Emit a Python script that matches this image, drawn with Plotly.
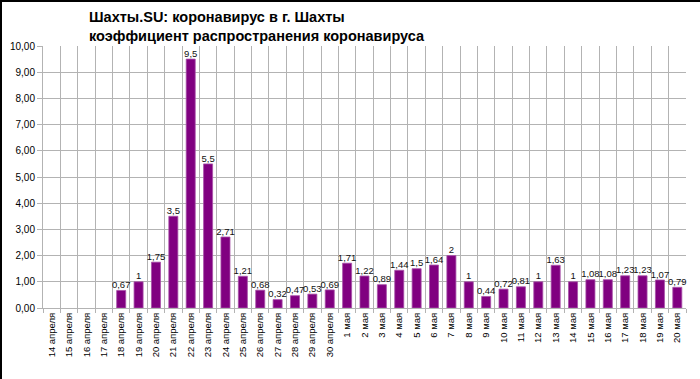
import plotly.graph_objects as go

categories = [
    "14 апреля", "15 апреля", "16 апреля", "17 апреля", "18 апреля", "19 апреля",
    "20 апреля", "21 апреля", "22 апреля", "23 апреля", "24 апреля", "25 апреля",
    "26 апреля", "27 апреля", "28 апреля", "29 апреля", "30 апреля",
    "1 мая", "2 мая", "3 мая", "4 мая", "5 мая", "6 мая", "7 мая", "8 мая", "9 мая",
    "10 мая", "11 мая", "12 мая", "13 мая", "14 мая", "15 мая", "16 мая", "17 мая",
    "18 мая", "19 мая", "20 мая",
]
values = [
    None, None, None, None, 0.67, 1, 1.75, 3.5, 9.5, 5.5, 2.71, 1.21, 0.68, 0.32,
    0.47, 0.53, 0.69, 1.71, 1.22, 0.89, 1.44, 1.5, 1.64, 2, 1, 0.44, 0.72, 0.81,
    1, 1.63, 1, 1.08, 1.08, 1.23, 1.23, 1.07, 0.79,
]
title_lines = ["Шахты.SU: коронавирус в г. Шахты", "коэффициент распространения коронавируса"]

positions = list(range(len(categories)))
labels = ["" if v is None else (str(int(v)) if v == int(v) else str(v)).replace(".", ",") for v in values]

W, H = 700, 379
ml, mr, mt, mb = 43, 14, 46, 71
pw, ph = W - ml - mr, H - mt - mb
FONT = "Liberation Sans, Arial, sans-serif"

fig = go.Figure()
fig.add_trace(go.Bar(
    x=positions, y=values,
    marker=dict(color="#800080", line=dict(color="#a850a8", width=0.8)),
    width=0.52, hoverinfo="skip",
))
fig.add_trace(go.Scatter(
    x=positions, y=values, text=labels, mode="text", textposition="top center",
    textfont=dict(size=9.5, color="#111111", family=FONT),
    cliponaxis=False, hoverinfo="skip",
))

fig.update_layout(
    width=W, height=H,
    margin=dict(l=ml, r=mr, t=mt, b=mb, autoexpand=False),
    paper_bgcolor="white", plot_bgcolor="white",
    showlegend=False,
    font=dict(family=FONT, color="#000000"),
    separators=", ",
)
fig.add_annotation(
    xref="paper", yref="paper", x=(87 - ml) / pw, y=1 + (mt - 7) / ph,
    xanchor="left", yanchor="top", align="left", showarrow=False,
    text="<b>" + title_lines[0] + "<br>" + title_lines[1] + "</b>",
    font=dict(size=14.5, family=FONT, color="#000000"),
)

fig.update_yaxes(
    range=[0, 10], dtick=1, tickformat=".2f",
    showgrid=True, gridcolor="#b3b3b3", gridwidth=1,
    showline=True, linecolor="#b3b3b3", linewidth=1,
    ticks="outside", ticklen=5, tickcolor="#b3b3b3",
    tickfont=dict(size=10, color="#000000"),
    zeroline=False,
)
fig.update_xaxes(
    range=[-0.5, len(categories) - 0.5],
    tickmode="array", tickvals=positions, ticktext=categories,
    tickangle=-90, tickfont=dict(size=9.5, color="#000000"),
    showgrid=False, ticks="",
    showline=True, linecolor="#b3b3b3", linewidth=1,
    zeroline=False,
    minor=dict(
        tickmode="array", tickvals=[p - 0.5 for p in positions] + [len(categories) - 0.5],
        showgrid=True, gridcolor="#b3b3b3", gridwidth=1,
        ticks="outside", ticklen=4, tickcolor="#b3b3b3",
    ),
)

# outer frame lines (top and left edges of the image)
fig.add_shape(type="line", xref="paper", yref="paper",
              x0=-ml / pw, x1=1 + mr / pw, y0=1 + (mt - 1) / ph, y1=1 + (mt - 1) / ph,
              line=dict(color="black", width=2))
fig.add_shape(type="line", xref="paper", yref="paper",
              x0=-(ml - 1) / pw, x1=-(ml - 1) / pw, y0=-mb / ph, y1=1 + mt / ph,
              line=dict(color="black", width=2))

fig.write_html("out.html", config={"displayModeBar": False},
               post_script="document.body.style.margin='0';")
